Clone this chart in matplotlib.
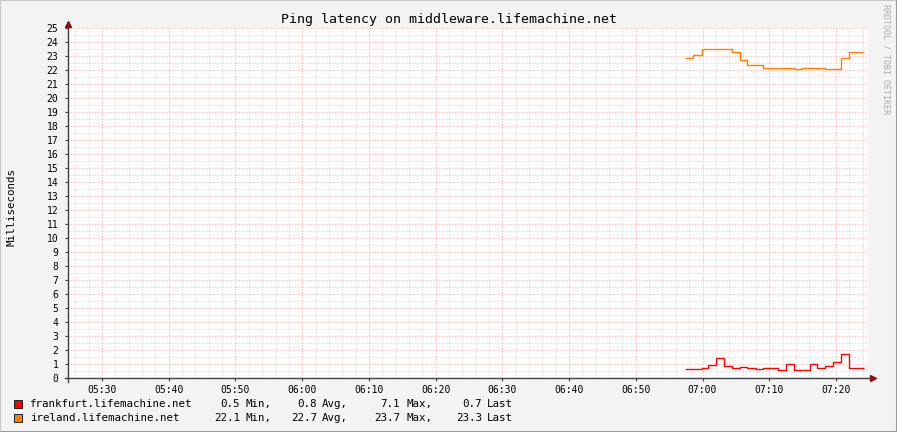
import numpy as np
import matplotlib.pyplot as plt
from matplotlib.ticker import MultipleLocator, FuncFormatter
from matplotlib.lines import Line2D
from matplotlib.patches import Rectangle

# time in minutes of day (05:25 .. 07:25), step edges
red_edges = [417.37, 419.87, 420.86, 422.01, 423.21, 424.45, 425.61, 426.70, 427.96, 429.10,
             431.30, 432.50, 433.75, 436.10, 437.15, 438.39, 439.55, 440.79, 441.95, 444.24]
red_vals = [0.64, 0.71, 0.95, 1.43, 0.88, 0.71, 0.79, 0.71, 0.64, 0.71,
            0.57, 1.0, 0.57, 1.0, 0.71, 0.86, 1.14, 1.71, 0.71]

orange_edges = [417.37, 418.61, 419.87, 424.45, 425.61, 426.70, 429.10, 433.75, 434.94,
                438.39, 440.79, 441.95, 444.24]
orange_vals = [22.83, 23.05, 23.48, 23.26, 22.69, 22.33, 22.12, 22.05, 22.12, 22.05, 22.83, 23.26]

series_names = ["frankfurt.lifemachine.net", "ireland.lifemachine.net"]
series_colors = ["#ff0000", "#ff8000"]
stat_labels = ["Min,", "Avg,", "Max,", "Last"]
stats = [[0.5, 0.8, 7.1, 0.7],
         [22.1, 22.7, 23.7, 23.3]]

W, H = 897, 432
MONO = "DejaVu Sans Mono"

fig = plt.figure(figsize=(W / 100, H / 100), dpi=100, facecolor="#f3f3f3")

def px(x, y):
    return x / W, 1 - y / H

# 3d-ish frame
fig.add_artist(Line2D([0, 0], [0, 1], color="#c8c8c8", lw=1.5, transform=fig.transFigure))
fig.add_artist(Line2D([0, 1], [1, 1], color="#c8c8c8", lw=1.5, transform=fig.transFigure))
fig.add_artist(Line2D([1, 1], [0, 1], color="#9a9a9a", lw=1.5, transform=fig.transFigure))
fig.add_artist(Line2D([0, 1], [0, 0], color="#9a9a9a", lw=1.5, transform=fig.transFigure))

left, right, top, bottom = 68, 868, 28, 378
ax = fig.add_axes([left / W, 1 - bottom / H, (right - left) / W, (bottom - top) / H])
ax.set_facecolor("white")

ax.set_xlim(324.9, 444.8)
ax.set_ylim(0, 25)

ax.xaxis.set_major_locator(MultipleLocator(10))
ax.xaxis.set_minor_locator(MultipleLocator(2))
ax.yaxis.set_major_locator(MultipleLocator(1))
ax.yaxis.set_minor_locator(MultipleLocator(0.5))
ax.xaxis.set_major_formatter(FuncFormatter(lambda v, p: f"{int(v) // 60:02d}:{int(v) % 60:02d}"))
ax.yaxis.set_major_formatter(FuncFormatter(lambda v, p: f"{int(round(v))}"))

ax.grid(which="minor", color="#dadada", lw=0.8, linestyle=(0, (1, 1.4)))
ax.grid(which="major", color="#f5b8b8", lw=0.8, linestyle=(0, (1, 1.4)))
ax.set_axisbelow(True)

for s in ax.spines.values():
    s.set_visible(False)

ax.tick_params(which="major", length=2, width=0.8, color="#404040", labelsize=7)
ax.tick_params(which="minor", length=0)
ax.tick_params(axis="x", pad=3)
ax.tick_params(axis="y", pad=5)
for lab in ax.get_xticklabels() + ax.get_yticklabels():
    lab.set_family(MONO)

ax.stairs(red_vals, red_edges, color=series_colors[0], lw=1.0, baseline=None)
ax.stairs(orange_vals, orange_edges, color=series_colors[1], lw=1.0, baseline=None)

# axes with arrows
ax.plot([-0.004, 1.005], [0, 0], color="#404040", lw=1.0, transform=ax.transAxes, clip_on=False)
ax.plot([0, 0], [-0.01, 1.01], color="#404040", lw=1.0, transform=ax.transAxes, clip_on=False)
ax.plot([1.006], [0], marker=">", ms=5, color="#8b1010", transform=ax.transAxes, clip_on=False)
ax.plot([0], [1.012], marker="^", ms=5, color="#8b1010", transform=ax.transAxes, clip_on=False)

ax.set_ylabel("Milliseconds", family=MONO, fontsize=7.8)
ax.yaxis.set_label_coords((16 - left) / (right - left), 0.49)

fig.text(0.5, 1 - 19 / H, "Ping latency on middleware.lifemachine.net",
         family=MONO, fontsize=9.5, ha="center", va="center")

fig.text(*px(886, 4), "RRDTOOL / TOBI OETIKER", rotation=270,
         family=MONO, fontsize=6.0, color="#aaaaaa", ha="center", va="top")

# legend
num_right = [240, 317, 400, 482]
lab_left = [245, 322, 406, 487]
rows_y = [404, 418]
for i, name in enumerate(series_names):
    y = rows_y[i]
    fig.add_artist(Rectangle(px(14, y + 4), 8 / W, 8 / H, facecolor=series_colors[i],
                             edgecolor="#202020", lw=0.7, transform=fig.transFigure))
    fig.text(*px(30, y), name, family=MONO, fontsize=7.8, ha="left", va="center")
    for j in range(4):
        fig.text(*px(num_right[j], y), f"{stats[i][j]:.1f}", family=MONO, fontsize=7.8,
                 ha="right", va="center")
        fig.text(*px(lab_left[j], y), stat_labels[j], family=MONO, fontsize=7.8,
                 ha="left", va="center")

fig.savefig("out.png", dpi=100, facecolor=fig.get_facecolor())
